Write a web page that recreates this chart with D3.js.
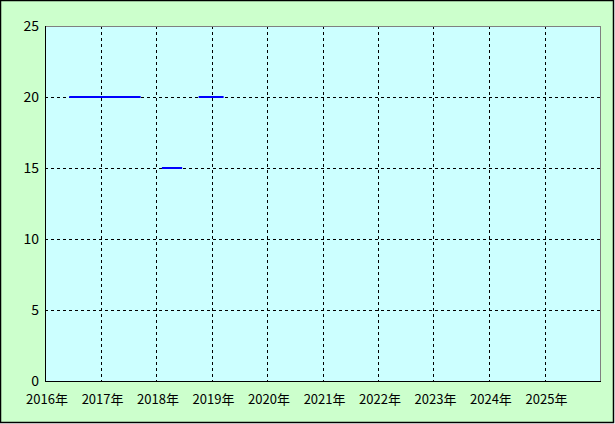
<!DOCTYPE html>
<html><head><meta charset="utf-8">
<script src="https://cdn.jsdelivr.net/npm/d3@7"></script>
<style>body{margin:0;background:#fff}svg{display:block}</style>
</head><body>
<script>
const yearLabels = ["2016年","2017年","2018年","2019年","2020年","2021年","2022年","2023年","2024年","2025年"];
const yTicks = [0,5,10,15,20,25];
const months = ["2016-06","2016-07","2016-08","2016-09","2016-10","2016-11","2016-12","2017-01","2017-02","2017-03","2017-04","2017-05","2017-06","2017-07","2017-08","2017-09","2017-10","2017-11","2017-12","2018-01","2018-02","2018-03","2018-04","2018-05","2018-06","2018-07","2018-08","2018-09","2018-10","2018-11","2018-12","2019-01","2019-02","2019-03"];
const values = [20,20,20,20,20,20,20,20,20,20,20,20,20,20,20,20,null,null,null,null,15,15,15,15,15,null,null,null,20,20,20,20,20,20];

const W=615,H=424;
const svg=d3.select("body").append("svg").attr("width",W).attr("height",H);
svg.append("rect").attr("x",0.5).attr("y",0.5).attr("width",613).attr("height",422)
  .attr("fill","#ccffcc").attr("stroke","#000").attr("stroke-width",1.5);
const L=45,T=26,R=600,B=381;
const x=d3.scaleTime().domain([new Date(2016,0,1),new Date(2026,0,1)]).range([L,R]);
const y=d3.scaleLinear().domain([0,25]).range([B,T]);
svg.append("rect").attr("x",L).attr("y",T).attr("width",R-L).attr("height",B-T).attr("fill","#ccffff");
const g=svg.append("g");
const yearDates=yearLabels.map((d,i)=>new Date(2016+i,0,1));
g.selectAll(".vg").data(yearDates.slice(1)).enter().append("line")
  .attr("x1",d=>Math.round(x(d))+0.5).attr("x2",d=>Math.round(x(d))+0.5).attr("y1",T).attr("y2",B)
  .attr("stroke","#000").attr("stroke-dasharray","3,3");
g.selectAll(".hg").data(yTicks.slice(1,-1)).enter().append("line")
  .attr("x1",L).attr("x2",R).attr("y1",d=>Math.round(y(d))+0.5).attr("y2",d=>Math.round(y(d))+0.5)
  .attr("stroke","#000").attr("stroke-dasharray","3,3");
svg.append("line").attr("x1",L).attr("x2",R).attr("y1",T+0.5).attr("y2",T+0.5).attr("stroke","#808080");
svg.append("line").attr("x1",R+0.5).attr("x2",R+0.5).attr("y1",T).attr("y2",B).attr("stroke","#808080");
const parse=d3.timeParse("%Y-%m-%d");
const pts=months.map((m,i)=>({d:parse(m+"-15"),v:values[i]}));
const line=d3.line().defined(p=>p.v!==null).x(p=>x(p.d)).y(p=>y(p.v));
svg.append("path").attr("d",line(pts)).attr("fill","none").attr("stroke","#0000ff")
  .attr("stroke-width",2).attr("stroke-linecap","square");
svg.append("line").attr("x1",L+0.5).attr("x2",L+0.5).attr("y1",T).attr("y2",B+1).attr("stroke","#000");
svg.append("line").attr("x1",L).attr("x2",R+1).attr("y1",B+0.5).attr("y2",B+0.5).attr("stroke","#000");
const font="'Noto Sans CJK JP', 'DejaVu Sans', sans-serif";
svg.selectAll(".yl").data(yTicks).enter().append("text")
  .attr("x",39).attr("y",d=>y(d)+5).attr("text-anchor","end")
  .attr("font-family",font).attr("font-size",14).text(d=>d);
svg.selectAll(".xl").data(yearLabels).enter().append("text")
  .attr("x",(d,i)=>x(yearDates[i])+2).attr("y",404).attr("text-anchor","middle")
  .attr("font-family",font).attr("font-size",13).text(d=>d);
</script>
</body></html>
